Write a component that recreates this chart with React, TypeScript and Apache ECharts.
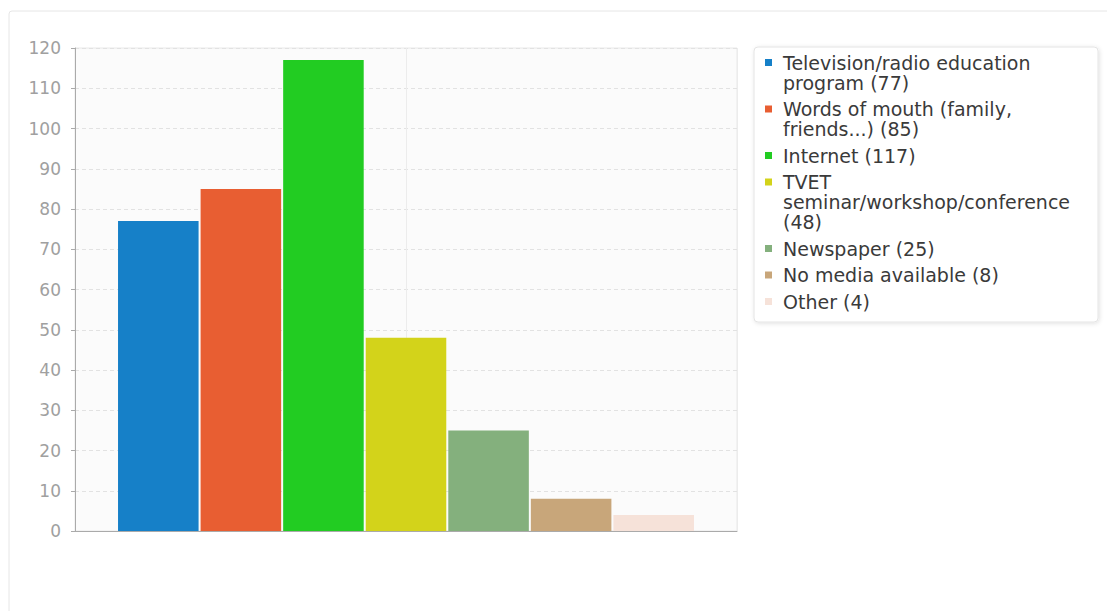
import React, { useEffect, useRef } from "react";
import * as echarts from "echarts";

const categories = [
  "Television/radio education program",
  "Words of mouth (family, friends...)",
  "Internet",
  "TVET seminar/workshop/conference",
  "Newspaper",
  "No media available",
  "Other",
];
const values = [77, 85, 117, 48, 25, 8, 4];
const colors = ["#1680c8", "#e85e32", "#22cc22", "#d3d31a", "#84b07d", "#c8a67a", "#f6e2d9"];
const legendLines = [
  ["Television/radio education", "program (77)"],
  ["Words of mouth (family,", "friends...) (85)"],
  ["Internet (117)"],
  ["TVET", "seminar/workshop/conference", "(48)"],
  ["Newspaper (25)"],
  ["No media available (8)"],
  ["Other (4)"],
];
const yTicks = [0, 10, 20, 30, 40, 50, 60, 70, 80, 90, 100, 110, 120];

export default function App() {
  const ref = useRef<HTMLDivElement>(null);
  useEffect(() => {
    if (!ref.current) return;
    const chart = echarts.init(ref.current, null, { renderer: "svg" });
    const rich: Record<string, any> = {
      t: { fontFamily: "DejaVu Sans", fontSize: 19, lineHeight: 20, color: "#3a3a3a" },
      g: { width: 11, height: 7, lineHeight: 20 },
      s: { width: 18, height: 7, lineHeight: 20 },
    };
    colors.forEach((c, i) => {
      rich["m" + i] = { width: 7, height: 7, lineHeight: 20, backgroundColor: c };
    });
    chart.setOption({
      animation: false,
      graphic: [
        {
          type: "rect",
          shape: { x: 9, y: 11, width: 1120, height: 640, r: 3 },
          style: { fill: "none", stroke: "#e6e6e6", lineWidth: 1 },
          silent: true,
          z: -10,
        },
      ],
      grid: {
        left: 75,
        top: 48,
        right: 370,
        bottom: 80,
        show: true,
        backgroundColor: "#fbfbfb",
        borderColor: "#e8e8e8",
        borderWidth: 1,
      },
      legend: {
        orient: "vertical",
        left: 754,
        top: 47,
        padding: [6, 28, 11, 11],
        itemGap: 7.5,
        itemWidth: 0,
        itemHeight: 1,
        icon: "rect",
        backgroundColor: "#ffffff",
        borderColor: "#e4e4e4",
        borderWidth: 1,
        borderRadius: 4,
        shadowBlur: 4,
        shadowColor: "rgba(0,0,0,0.12)",
        shadowOffsetX: 1,
        shadowOffsetY: 1,
        data: categories,
        textStyle: { rich, padding: [0, 0, 0, -5] },
        formatter: (name: string) => {
          const i = categories.indexOf(name);
          return legendLines[i]
            .map((l, j) => (j === 0 ? `{m${i}|}{g|}{t|${l}}` : `{s|}{t|${l}}`))
            .join("\n");
        },
      },
      xAxis: [
        {
          type: "category",
          data: [""],
          axisLine: { show: true, lineStyle: { color: "#aaaaaa", width: 1 } },
          axisTick: { show: false },
          axisLabel: { show: false },
          splitLine: { show: false },
        },
        {
          type: "category",
          data: ["", ""],
          position: "top",
          axisLine: { show: false },
          axisTick: { show: false, interval: 0 },
          axisLabel: { show: false, interval: 0 },
          splitLine: { show: true, interval: 0, lineStyle: { color: "#ececec", width: 1 } },
        },
      ],
      yAxis: {
        type: "value",
        min: yTicks[0],
        max: yTicks[yTicks.length - 1],
        interval: 10,
        axisLine: { show: true, lineStyle: { color: "#aaaaaa", width: 1 } },
        axisTick: { show: true, length: 4, lineStyle: { color: "#aaaaaa" } },
        axisLabel: {
          margin: 14,
          color: "#a0a0a0",
          fontFamily: "DejaVu Sans",
          fontSize: 17,
        },
        splitLine: { show: true, lineStyle: { color: "#e2e2e2", type: [4, 3], width: 1 } },
      },
      series: categories.map((name, i) => ({
        type: "bar",
        name,
        xAxisIndex: 0,
        data: [values[i]],
        barGap: "2.5%",
        barCategoryGap: "13%",
        itemStyle: { color: colors[i] },
      })),
    });
    return () => chart.dispose();
  }, []);
  return (
    <div
      ref={ref}
      style={{ position: "fixed", left: 0, top: 0, width: 1107, height: 611, background: "#fff" }}
    />
  );
}
